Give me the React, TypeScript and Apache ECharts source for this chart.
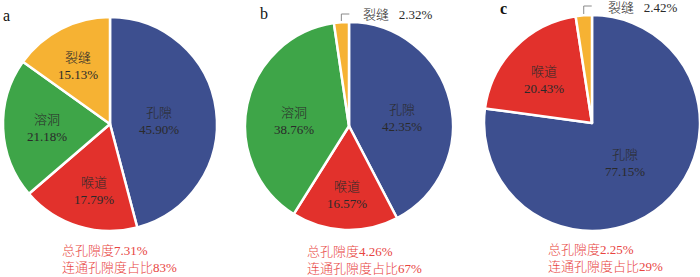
import { useEffect, useRef } from 'react';
import * as echarts from 'echarts';

// ---- data ----
const categoriesA = ['孔隙', '喉道', '溶洞', '裂缝'];
const valuesA = [45.9, 17.79, 21.18, 15.13];
const categoriesB = ['孔隙', '喉道', '溶洞', '裂缝'];
const valuesB = [42.35, 16.57, 38.76, 2.32];
const categoriesC = ['孔隙', '喉道', '裂缝'];
const valuesC = [77.15, 20.43, 2.42];
const panelLetters = ['a', 'b', 'c'];
const totalPorosity = ['7.31%', '4.26%', '2.25%'];
const connectedShare = ['83%', '67%', '29%'];

// ---- styles / layout ----
const colorOf: Record<string, string> = {
  孔隙: '#3d4f8f',
  喉道: '#e2312c',
  溶洞: '#3ea548',
  裂缝: '#f6b233',
};
const FONT = "'Liberation Serif', 'Noto Sans CJK SC', serif";

type Panel = {
  cats: string[];
  vals: number[];
  cx: number;
  cy: number;
  r: number;
  offsets: Record<string, [number, number]>;
  outside?: { cat: string; x: number; y: number; lineTop: number; lineLen: number };
  letter: { x: number; y: number; bold?: boolean };
  noteX: number;
  noteY: number;
};

const panels: Panel[] = [
  {
    cats: categoriesA, vals: valuesA, cx: 110, cy: 124, r: 107,
    offsets: { 孔隙: [49, -3], 喉道: [-16, 67], 溶洞: [-63, 4], 裂缝: [-32, -58] },
    letter: { x: 3, y: 15 },
    noteX: 62, noteY: 250,
  },
  {
    cats: categoriesB, vals: valuesB, cx: 349, cy: 126, r: 104,
    offsets: { 孔隙: [53, -8], 喉道: [-2, 69], 溶洞: [-55, -5] },
    outside: { cat: '裂缝', x: 363, y: 14, lineTop: 14, lineLen: 8 },
    letter: { x: 260, y: 13 },
    noteX: 307, noteY: 251,
  },
  {
    cats: categoriesC, vals: valuesC, cx: 592, cy: 123, r: 108,
    offsets: { 孔隙: [33, 40], 喉道: [-48, -43] },
    outside: { cat: '裂缝', x: 608, y: 7.5, lineTop: 6, lineLen: 8 },
    letter: { x: 500, y: 8, bold: true },
    noteX: 548, noteY: 249,
  },
];

export default function App() {
  const ref = useRef<HTMLDivElement>(null);

  useEffect(() => {
    if (!ref.current) return;
    const chart = echarts.init(ref.current, null, { renderer: 'svg' });

    const series: any[] = panels.map((p) => ({
      type: 'pie',
      center: [p.cx, p.cy],
      radius: [0, p.r],
      startAngle: 90,
      clockwise: true,
      avoidLabelOverlap: false,
      itemStyle: { borderColor: '#ffffff', borderWidth: 2.5 },
      emphasis: { disabled: true },
      label: {
        show: true,
        position: 'inside',
        fontFamily: FONT,
        fontSize: 13,
        fontWeight: 300,
        color: '#2a2a2a',
        lineHeight: 17,
        align: 'center',
        formatter: (params: any) => `${params.name}\n${Number(params.value).toFixed(2)}%`,
      },
      labelLine: { show: false },
      labelLayout: (params: any) => {
        const name = p.cats[params.dataIndex];
        if (p.outside && p.outside.cat === name) {
          return { x: p.outside.x, y: p.outside.y, align: 'left', verticalAlign: 'middle' };
        }
        const off = p.offsets[name] || [0, 0];
        return { x: p.cx + off[0], y: p.cy + off[1], align: 'center', verticalAlign: 'middle' };
      },
      data: p.cats.map((c, i) => {
        const d: any = { name: c, value: p.vals[i], itemStyle: { color: colorOf[c] } };
        if (p.outside && p.outside.cat === c) {
          d.label = {
            position: 'outside',
            formatter: (params: any) => `${params.name}   ${Number(params.value).toFixed(2)}%`,
          };
        }
        return d;
      }),
    }));

    const graphic: any[] = [];
    panels.forEach((p, k) => {
      graphic.push({
        type: 'text',
        style: {
          text: panelLetters[k],
          x: p.letter.x,
          y: p.letter.y,
          font: `${p.letter.bold ? 'bold ' : ''}16px 'Liberation Serif', serif`,
          fill: '#111111',
          verticalAlign: 'middle',
        },
      });
      graphic.push({
        type: 'text',
        style: {
          text: `总孔隙度${totalPorosity[k]}`,
          x: p.noteX,
          y: p.noteY,
          font: `300 13px ${FONT}`,
          fill: '#e8453f',
          verticalAlign: 'middle',
        },
      });
      graphic.push({
        type: 'text',
        style: {
          text: `连通孔隙度占比${connectedShare[k]}`,
          x: p.noteX,
          y: p.noteY + 17,
          font: `300 13px ${FONT}`,
          fill: '#e8453f',
          verticalAlign: 'middle',
        },
      });
      if (p.outside) {
        const total = p.vals.reduce((a, b) => a + b, 0);
        const idx = p.cats.indexOf(p.outside.cat);
        const before = p.vals.slice(0, idx).reduce((a, b) => a + b, 0);
        const mid = ((before + p.vals[idx] / 2) / total) * Math.PI * 2;
        const ex = p.cx + (p.r + 1) * Math.sin(mid);
        const ey = p.cy - (p.r + 1) * Math.cos(mid);
        graphic.push({
          type: 'polyline',
          shape: {
            points: [
              [ex, ey],
              [ex, p.outside.lineTop],
              [ex + p.outside.lineLen, p.outside.lineTop],
            ],
          },
          style: { stroke: '#8a8a8a', lineWidth: 1, fill: 'none' },
        });
      }
    });

    chart.setOption({
      animation: false,
      backgroundColor: '#ffffff',
      series,
      graphic,
    });

    return () => chart.dispose();
  }, []);

  return (
    <div
      ref={ref}
      style={{ position: 'absolute', left: 0, top: 0, width: 700, height: 277 }}
    />
  );
}
